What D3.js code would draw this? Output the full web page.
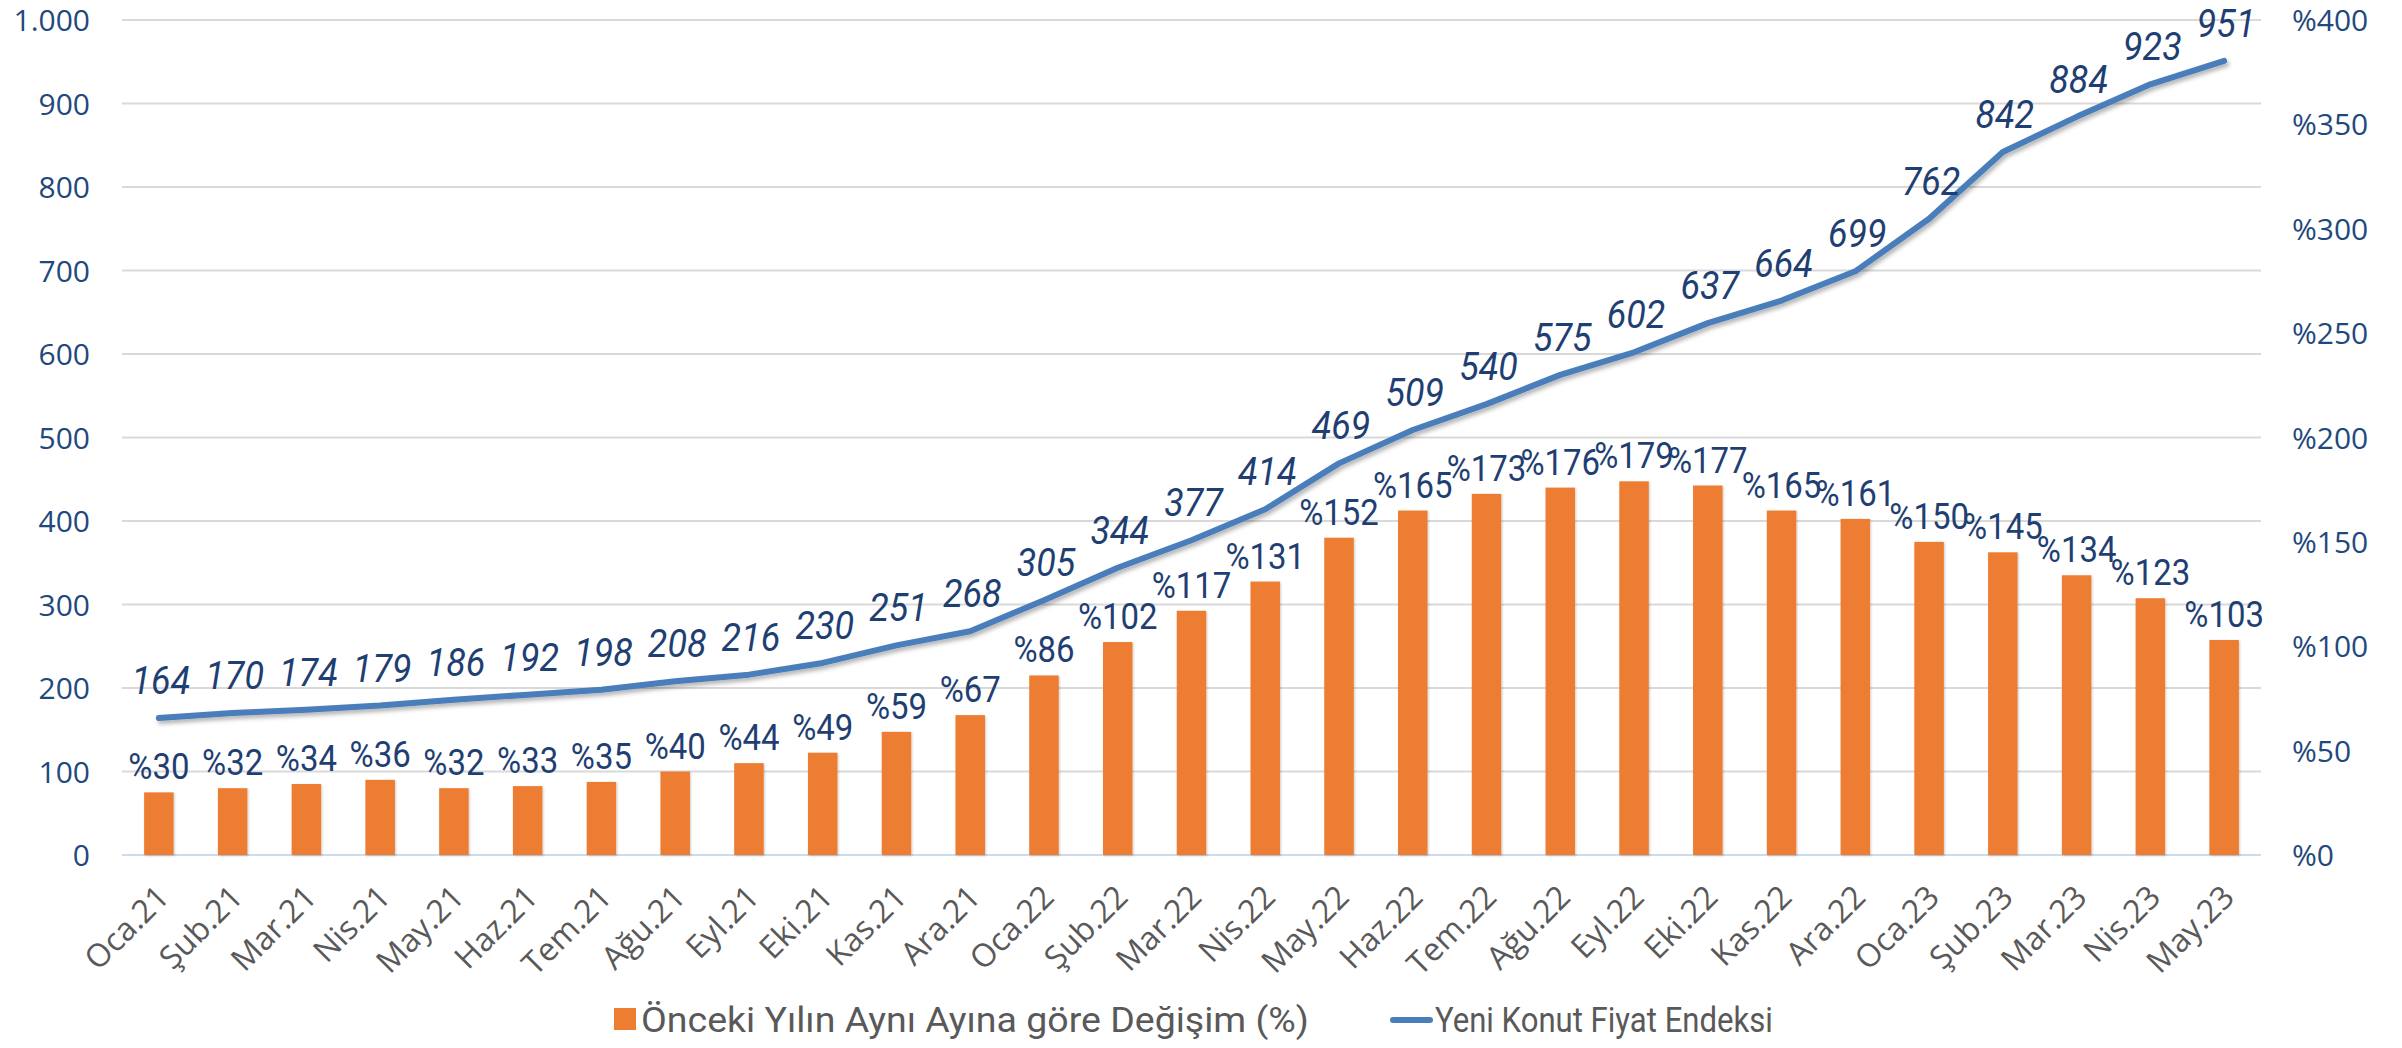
<!DOCTYPE html>
<html><head><meta charset="utf-8">
<script src="https://cdn.jsdelivr.net/npm/d3@7"></script>
<style>body{margin:0;background:#fff}svg{display:block}</style>
</head><body>
<svg id="c" width="2402" height="1048"></svg>
<script>
const categories = ["Oca.21","Şub.21","Mar.21","Nis.21","May.21","Haz.21","Tem.21","Ağu.21","Eyl.21","Eki.21","Kas.21","Ara.21","Oca.22","Şub.22","Mar.22","Nis.22","May.22","Haz.22","Tem.22","Ağu.22","Eyl.22","Eki.22","Kas.22","Ara.22","Oca.23","Şub.23","Mar.23","Nis.23","May.23"];
const yoyChange = [30,32,34,36,32,33,35,40,44,49,59,67,86,102,117,131,152,165,173,176,179,177,165,161,150,145,134,123,103];
const priceIndex = [164,170,174,179,186,192,198,208,216,230,251,268,305,344,377,414,469,509,540,575,602,637,664,699,762,842,884,923,951];
const leftTicks = [0,100,200,300,400,500,600,700,800,900,1000];
const rightTicks = [0,50,100,150,200,250,300,350,400];
const legendLabels = ["Önceki Yılın Aynı Ayına göre Değişim (%)","Yeni Konut Fiyat Endeksi"];

const svg = d3.select("#c");
const L = 122, R = 2261, T = 20, B = 855;
const x = d3.scaleBand().domain(categories).range([L, R]).paddingInner(0.6).paddingOuter(0.3);
const cx = i => x(categories[i]) + x.bandwidth()/2;
const yL = d3.scaleLinear().domain([0,1000]).range([B,T]);
const yR = d3.scaleLinear().domain([0,400]).range([B,T]);

const defs = svg.append("defs");
const f = defs.append("filter").attr("id","sh").attr("x","-10%").attr("y","-10%").attr("width","120%").attr("height","130%");
f.append("feDropShadow").attr("dx",2).attr("dy",3).attr("stdDeviation",2).attr("flood-color","#000").attr("flood-opacity",0.3);
const f2 = defs.append("filter").attr("id","sh2").attr("x","-20%").attr("y","-10%").attr("width","140%").attr("height","120%");
f2.append("feDropShadow").attr("dx",1).attr("dy",1).attr("stdDeviation",1).attr("flood-color","#000").attr("flood-opacity",0.2);

const tickFont = "'Open Sans', sans-serif";
const dataFont = "Roboto, sans-serif";
const axisColor = "#1F497D";
const labelColor = "#1F3F73";

// gridlines
svg.append("g").selectAll("line").data(leftTicks).join("line")
  .attr("x1",L).attr("x2",R).attr("y1",d=>yL(d)).attr("y2",d=>yL(d))
  .attr("stroke",d=>d===0?"#CCDBEE":"#D9D9D9").attr("stroke-width",2);

// left axis
const gl = svg.append("g").attr("transform",`translate(90,0)`)
  .call(d3.axisLeft(yL).tickValues(leftTicks).tickSize(0).tickPadding(0)
    .tickFormat(d=>d3.format(",")(d).replace(/,/g,".")));
gl.select(".domain").remove();
gl.selectAll("text").attr("font-family",tickFont).attr("font-size",30).attr("fill",axisColor).attr("x",0).attr("dy","0.35em");

// right axis
const gr = svg.append("g").attr("transform",`translate(2292,0)`)
  .call(d3.axisRight(yR).tickValues(rightTicks).tickSize(0).tickPadding(0).tickFormat(d=>"%"+d));
gr.select(".domain").remove();
gr.selectAll("text").attr("font-family",tickFont).attr("font-size",30).attr("fill",axisColor).attr("x",0).attr("dy","0.35em");

// x labels
svg.append("g").selectAll("text").data(categories).join("text")
  .attr("transform",(d,i)=>`translate(${cx(i)+12},${B+44}) rotate(-45)`)
  .attr("text-anchor","end")
  .attr("font-family",tickFont).attr("font-size",32).attr("fill","#595959")
  .text(d=>d);

// bars
svg.append("g").attr("filter","url(#sh2)").selectAll("rect").data(yoyChange).join("rect")
  .attr("x",(d,i)=>x(categories[i])).attr("width",x.bandwidth())
  .attr("y",d=>yR(d)).attr("height",d=>B-yR(d)).attr("fill","#ED7D31");

// bar labels
svg.append("g").selectAll("text").data(yoyChange).join("text")
  .attr("transform",(d,i)=>`translate(${cx(i)},${yR(d)-13}) scale(0.89,1)`)
  .attr("text-anchor","middle").attr("font-family",dataFont).attr("font-size",37).attr("fill",labelColor)
  .text(d=>"%"+d);

// line
const line = d3.line().x((d,i)=>cx(i)).y(d=>yL(d));
svg.append("path").datum(priceIndex).attr("d",line).attr("fill","none")
  .attr("stroke","#4A7EBB").attr("stroke-width",6).attr("stroke-linecap","round").attr("stroke-linejoin","round")
  .attr("filter","url(#sh)");

// line labels
svg.append("g").selectAll("text").data(priceIndex).join("text")
  .attr("transform",(d,i)=>`translate(${cx(i)+2},${yL(d)-24}) scale(0.92,1)`)
  .attr("text-anchor","middle").attr("font-family",dataFont).attr("font-style","italic").attr("font-size",39).attr("fill",labelColor)
  .text(d=>d);

// legend
const lg = svg.append("g");
lg.append("rect").attr("x",614).attr("y",1008).attr("width",22).attr("height",22).attr("fill","#ED7D31");
function fitText(t, x0, target){
  const w = t.node().getComputedTextLength();
  t.attr("transform",`translate(${x0},1032) scale(${target/w},1)`);
}
const t1 = lg.append("text").attr("font-family",dataFont).attr("font-size",35).attr("fill","#595959").text(legendLabels[0]);
fitText(t1, 641, 668);
lg.append("line").attr("x1",1393).attr("x2",1430).attr("y1",1020).attr("y2",1020).attr("stroke","#4A7EBB").attr("stroke-width",6).attr("stroke-linecap","round");
const t2 = lg.append("text").attr("font-family",dataFont).attr("font-size",35).attr("fill","#595959").text(legendLabels[1]);
fitText(t2, 1435, 338);
</script>
</body></html>
